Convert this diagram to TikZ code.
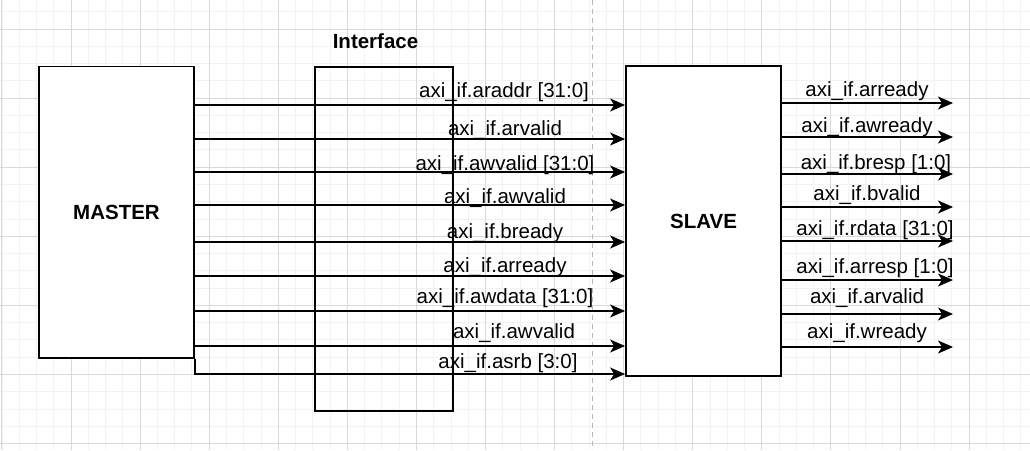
\documentclass[tikz,border=0pt]{standalone}
\usepackage{fontspec}
\setmainfont{Liberation Sans}
\usetikzlibrary{arrows.meta}
\tikzset{
minorgrid/.style={draw=gray!10,line width=0.8pt},
majorgrid/.style={draw=gray!30,line width=0.9pt},
block/.style={
draw,
line width=1.8pt,
fill=white,
inner sep=0pt,
font=\fontsize{20.5}{24}\selectfont\bfseries
},
sig/.style={
-{Stealth[length=15pt,width=13pt,inset=4pt]},
line width=1.6pt
},
siglbl/.style={
anchor=base,
inner sep=0pt,
font=\fontsize{20.5}{24}\selectfont
}
}

\begin{document}
\begin{tikzpicture}[x=1pt,y=-1pt]

\useasboundingbox[fill=white] (0,0) rectangle (1030,450);

% grid
\foreach \i in {0,...,59}
  \draw[minorgrid] ({1.9+17.27*\i},0) -- ({1.9+17.27*\i},450);
\foreach \i in {0,...,25}
  \draw[minorgrid] (0,{11.73+17.27*\i}) -- (1030,{11.73+17.27*\i});
\foreach \i in {0,...,14}
  \draw[majorgrid] ({1.9+69.08*\i},0) -- ({1.9+69.08*\i},450);
\foreach \i in {0,...,6}
  \draw[majorgrid] (0,{29+69*\i}) -- (1030,{29+69*\i});

\draw[gray!55,line width=1pt,dash pattern=on 5pt off 4pt] (592,0) -- (592,450);

% blocks
\node[draw,line width=1.6pt,minimum width=138pt,minimum height=344pt,inner sep=0pt]
  (iface) at (384,239) {};
\node[siglbl,font=\fontsize{20.5}{24}\selectfont\bfseries] (ifacelbl) at (375.5,48) {Interface};

\node[block,minimum width=155pt,minimum height=291.5pt] (master) at (116.5,212.25) {MASTER};
\node[block,minimum width=155pt,minimum height=310pt] (slave) at (703.5,221) {SLAVE};

% master -> slave
\foreach \y in {105,139,172,205,242,276,311,346}
  \draw[sig] (master.east |- 0,\y) -- (slave.west |- 0,\y);
\draw[sig] (master.south east) |- (slave.west |- 0,374);

\foreach \x/\b/\txt [count=\i] in {
  504/97/axi\_if.araddr [31:0],
  505/135/axi\_if.arvalid,
  505/170/axi\_if.awvalid [31:0],
  505/203/axi\_if.awvalid,
  505/238/axi\_if.bready,
  505/272/axi\_if.arready,
  505/303/axi\_if.awdata [31:0],
  514/338/axi\_if.awvalid,
  508/368/axi\_if.asrb [3:0]}
  \node[siglbl] (in\i) at (\x,\b) {\txt};

% slave outputs
\foreach \y [count=\i] in {103,137,174,207,241,280,314,347}{
  \coordinate (out\i) at (953,\y);
  \draw[sig] (slave.east |- out\i) -- (out\i);
}

\foreach \x/\b/\txt [count=\i] in {
  867/96/axi\_if.arready,
  867/132/axi\_if.awready,
  876/169/axi\_if.bresp [1:0],
  867/200/axi\_if.bvalid,
  875/235/axi\_if.rdata [31:0],
  875/273/axi\_if.arresp [1:0],
  867/303/axi\_if.arvalid,
  867/338/axi\_if.wready}
  \node[siglbl] (outlbl\i) at (\x,\b) {\txt};

\end{tikzpicture}
\end{document}
